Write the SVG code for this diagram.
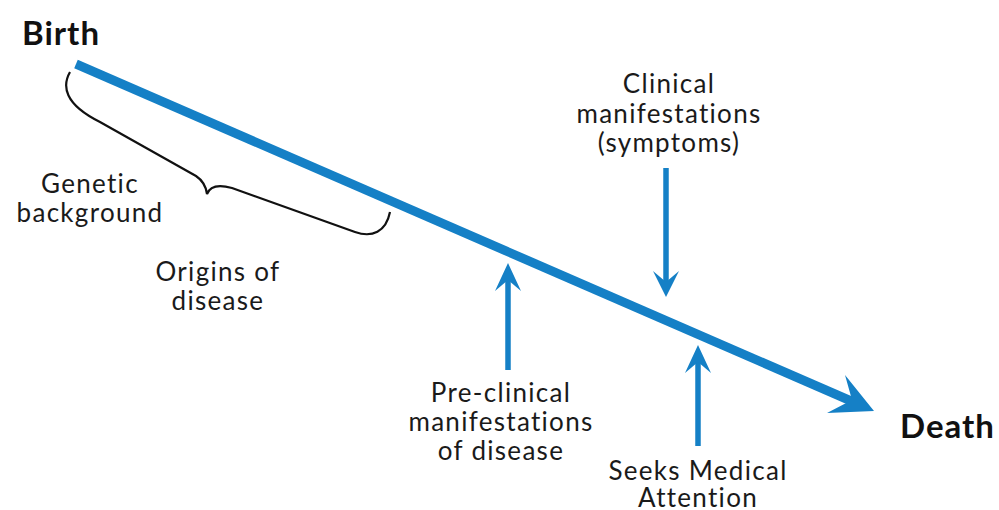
<svg xmlns="http://www.w3.org/2000/svg" width="999" height="510" viewBox="0 0 999 510">
<style>
.lbl{font-family:Lato,"Noto Sans","Liberation Sans",sans-serif;font-size:26px;letter-spacing:1.3px;fill:#1a1a1a;text-anchor:middle}
.big{font-family:Lato,"Noto Sans","Liberation Sans",sans-serif;font-size:33px;letter-spacing:1px;font-weight:bold;fill:#111}
.ln{stroke:#1580c6;fill:none}
.hd{fill:#1580c6}
</style>
<rect width="999" height="510" fill="#fff"/>
<g id="birth"><text class="big" x="22" y="45">Birth</text></g>
<g id="death"><text class="big" x="900" y="438">Death</text></g>
<g id="genetic"><path d="M70,72 C62,86 64,104 100,122 L196,176 C202,180 206,186 207,194 C210,186 218,184 232,188 L355,232 C372,238 386,232 390,212" fill="none" stroke="#111" stroke-width="2.2"/>
<text class="lbl" x="90" y="193">Genetic</text><text class="lbl" x="90" y="222">background</text></g>
<g id="origins"><text class="lbl" x="218" y="281">Origins of</text><text class="lbl" x="218" y="310">disease</text></g>
<g id="clinical"><text class="lbl" x="669" y="93">Clinical</text><text class="lbl" x="669" y="123">manifestations</text><text class="lbl" x="669" y="152">(symptoms)</text></g>
<g id="preclinical"><text class="lbl" x="501" y="402">Pre-clinical</text><text class="lbl" x="501" y="431">manifestations</text><text class="lbl" x="501" y="460">of disease</text></g>
<g id="seeks"><text class="lbl" x="698" y="480">Seeks Medical</text><text class="lbl" x="698" y="507">Attention</text></g>
<g id="connectors">
<line class="ln" x1="76" y1="64" x2="858" y2="404" stroke-width="9"/>
<polygon class="hd" points="874,411 845,375 852,400 827,413"/>
<line class="ln" x1="666" y1="168" x2="666" y2="284" stroke-width="5.5"/>
<polygon class="hd" points="666,297 653,271 666,282 679,271"/>
<line class="ln" x1="508" y1="279" x2="508" y2="370" stroke-width="5.5"/>
<polygon class="hd" points="508,263 495,291 508,280 521,291"/>
<line class="ln" x1="698" y1="361" x2="698" y2="446" stroke-width="5.5"/>
<polygon class="hd" points="698,345 685,373 698,362 711,373"/>
</g>
</svg>
